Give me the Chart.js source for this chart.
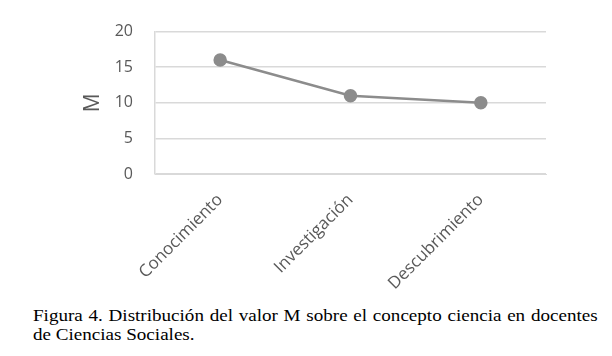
<!DOCTYPE html>
<html>
<head>
<meta charset="utf-8">
<script src="https://cdn.jsdelivr.net/npm/chart.js@4.4.1/dist/chart.umd.min.js"></script>
<style>
  html, body { margin: 0; padding: 0; background: #fff; width: 612px; height: 356px; overflow: hidden; }
  #wrap { position: absolute; left: 0; top: 0; width: 612px; height: 300px; }
  #cap { position: absolute; left: 33px; top: 306px; width: 518px; transform: scaleX(1.09); transform-origin: left top; font-family: "Liberation Serif", "Times New Roman", serif; font-size: 17.5px; line-height: 19px; color: #000; }
  #cap .l1 { text-align: justify; text-align-last: justify; white-space: nowrap; }
</style>
</head>
<body>
<div id="wrap"><canvas id="c" width="612" height="300"></canvas></div>
<div id="cap">
  <div class="l1">Figura 4. Distribución del valor M sobre el concepto ciencia en docentes</div>
  <div>de Ciencias Sociales.</div>
</div>
<script>
const categories = ["Conocimiento", "Investigación", "Descubrimiento"];
const valuesM = [16, 11, 10];
const yTicks = [0, 5, 10, 15, 20];
const yTitle = "M";

const ctx = document.getElementById('c');
new Chart(ctx, {
  type: 'line',
  data: {
    labels: categories,
    datasets: [{
      data: valuesM,
      borderColor: '#8c8c8c',
      backgroundColor: '#8c8c8c',
      borderWidth: 2.5,
      pointRadius: 5.5,
      pointHoverRadius: 5.5,
      pointBackgroundColor: '#8c8c8c',
      pointBorderColor: '#8c8c8c',
      tension: 0,
      fill: false
    }]
  },
  options: {
    responsive: false,
    animation: false,
    devicePixelRatio: 1,
    layout: { padding: { left: 80, right: 66, top: 20, bottom: 0 } },
    plugins: { legend: { display: false }, tooltip: { enabled: false } },
    scales: {
      x: {
        offset: true,
        grid: { display: false, drawTicks: false },
        border: { display: true, color: '#d9d9d9', width: 1 },
        ticks: {
          minRotation: 45, maxRotation: 45,
          padding: 16,
          color: '#595959',
          font: { family: 'Open Sans', size: 17 }
        },
        afterFit: (s) => { s.height = 126; }
      },
      y: {
        min: 0, max: 20,
        afterBuildTicks: (s) => { s.ticks = yTicks.map(v => ({ value: v })); },
        grid: { color: '#d9d9d9', lineWidth: 1.5, drawTicks: false },
        border: { display: true, color: '#d9d9d9', width: 1.5 },
        ticks: {
          padding: 22,
          color: '#595959',
          font: { family: 'Open Sans', size: 16 }
        },
        title: {
          display: true,
          text: yTitle,
          color: '#595959',
          font: { family: 'Open Sans', size: 21 },
          padding: { top: 0, bottom: 0 }
        },
        afterFit: (s) => { s.width = 75; }
      }
    }
  }
});
</script>
</body>
</html>
